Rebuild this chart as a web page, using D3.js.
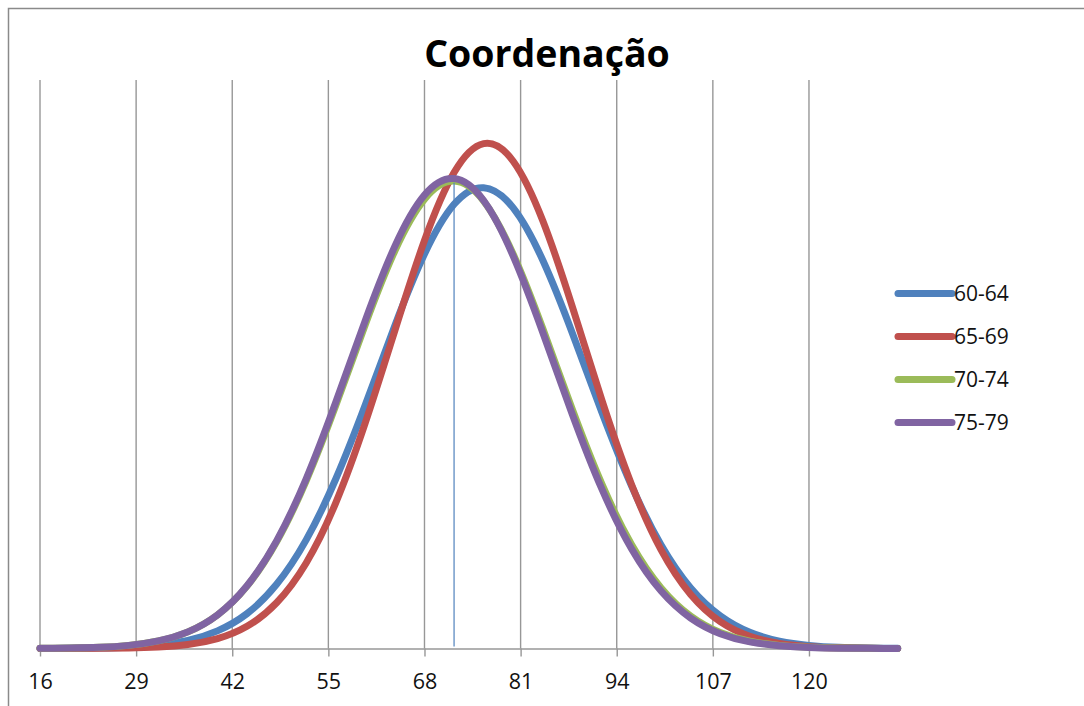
<!DOCTYPE html>
<html>
<head>
<meta charset="utf-8">
<script src="https://cdn.jsdelivr.net/npm/d3@7"></script>
<style>
  body { margin: 0; background: #fff; }
  svg { display: block; font-family: "Open Sans", "DejaVu Sans", sans-serif; }
</style>
</head>
<body>
<div id="chart"></div>
<script>
// categories (x) and the four series
var xValues = [16, 20, 24, 28, 32, 36, 40, 44, 48, 52, 56, 60, 64, 68, 72,
               76, 80, 84, 88, 92, 96, 100, 104, 108, 112, 116, 120, 124, 128, 132];

var seriesNames = ["60-64", "65-69", "70-74", "75-79"];
var seriesColors = ["#4F81BD", "#C0504D", "#9BBB59", "#8064A2"];

var s60_64 = [0.00, 0.01, 0.03, 0.08, 0.21, 0.49, 1.07, 2.12, 3.90, 6.60, 10.30, 14.81, 19.63, 23.97, 26.99,
              28.00, 26.77, 23.59, 19.16, 14.34, 9.89, 6.29, 3.68, 1.99, 0.99, 0.45, 0.19, 0.07, 0.03, 0.01];
var s65_69 = [0.00, 0.00, 0.01, 0.03, 0.09, 0.24, 0.60, 1.35, 2.78, 5.20, 8.85, 13.72, 19.33, 24.79, 28.92,
              30.68, 29.61, 25.99, 20.76, 15.08, 9.97, 5.99, 3.28, 1.63, 0.74, 0.30, 0.11, 0.04, 0.01, 0.00];
var s70_74 = [0.01, 0.03, 0.07, 0.19, 0.46, 1.01, 2.04, 3.79, 6.48, 10.19, 14.76, 19.69, 24.17, 27.30, 28.40,
              27.19, 23.96, 19.44, 14.52, 9.98, 6.32, 3.68, 1.97, 0.97, 0.44, 0.19, 0.07, 0.03, 0.01, 0.00];
var s75_79 = [0.01, 0.03, 0.07, 0.19, 0.46, 1.01, 2.04, 3.81, 6.54, 10.31, 14.96, 19.94, 24.45, 27.56, 28.56,
              27.22, 23.84, 19.20, 14.22, 9.68, 6.06, 3.49, 1.85, 0.90, 0.40, 0.17, 0.06, 0.02, 0.01, 0.00];

var tickValues = [16, 29, 42, 55, 68, 81, 94, 107, 120];

// thin vertical marker line
var markerX = 72, markerTop = 28.3;

var width = 1084, height = 706;

var series = [s60_64, s65_69, s70_74, s75_79];

var svg = d3.select("#chart").append("svg")
    .attr("width", width)
    .attr("height", height);

// outer frame of the chart area
svg.append("rect")
    .attr("x", 8.5).attr("y", 8.5)
    .attr("width", width + 10).attr("height", height + 10)
    .attr("fill", "none")
    .attr("stroke", "#8a8a8a")
    .attr("stroke-width", 1.5);

var xScale = d3.scaleLinear().domain([16, 132]).range([40, 897.7]);
var yScale = d3.scaleLinear().domain([0, 35]).range([648.5, 72.5]);
var baseY = yScale(0);

// title
svg.append("text")
    .attr("x", 547).attr("y", 67)
    .attr("text-anchor", "middle")
    .attr("font-size", 37.5)
    .attr("font-weight", "bold")
    .attr("fill", "#000")
    .text("Coordenação");

// vertical gridlines
svg.append("g").selectAll("line")
    .data(tickValues)
    .enter().append("line")
    .attr("x1", function(d){ return xScale(d); })
    .attr("x2", function(d){ return xScale(d); })
    .attr("y1", 80)
    .attr("y2", baseY)
    .attr("stroke", "#979797")
    .attr("stroke-width", 1.4);

// x axis
var xAxis = d3.axisBottom(xScale)
    .tickValues(tickValues)
    .tickFormat(d3.format("d"))
    .tickSizeInner(8)
    .tickSizeOuter(0)
    .tickPadding(17);

var gx = svg.append("g")
    .attr("transform", "translate(0," + baseY + ")")
    .call(xAxis);
gx.select(".domain").attr("stroke", "#979797").attr("stroke-width", 1.4);
gx.selectAll(".tick line").attr("stroke", "#979797").attr("stroke-width", 1.4);
gx.selectAll(".tick text")
    .attr("font-size", 21.5)
    .attr("font-family", "'Open Sans', sans-serif")
    .attr("fill", "#111");

// curves
var line = d3.line()
    .x(function(d, i){ return xScale(xValues[i]); })
    .y(function(d){ return yScale(d); })
    .curve(d3.curveNatural);

svg.append("g").selectAll("path")
    .data(series)
    .enter().append("path")
    .attr("d", line)
    .attr("fill", "none")
    .attr("stroke", function(d, i){ return seriesColors[i]; })
    .attr("stroke-width", 7)
    .attr("stroke-linecap", "round")
    .attr("stroke-linejoin", "round");

svg.append("line")
    .attr("x1", xScale(markerX)).attr("x2", xScale(markerX))
    .attr("y1", baseY - 2)
    .attr("y2", yScale(markerTop))
    .attr("stroke", "#4F81BD")
    .attr("stroke-width", 1.2);

// legend
var legend = svg.append("g").selectAll("g")
    .data(seriesNames)
    .enter().append("g")
    .attr("transform", function(d, i){ return "translate(898," + (293.5 + i * 43) + ")"; });

legend.append("line")
    .attr("x1", 0).attr("x2", 54)
    .attr("stroke", function(d, i){ return seriesColors[i]; })
    .attr("stroke-width", 7)
    .attr("stroke-linecap", "round");

legend.append("text")
    .attr("x", 56)
    .attr("dy", "0.35em")
    .attr("font-size", 21)
    .attr("fill", "#111")
    .text(function(d){ return d; });
</script>
</body>
</html>
